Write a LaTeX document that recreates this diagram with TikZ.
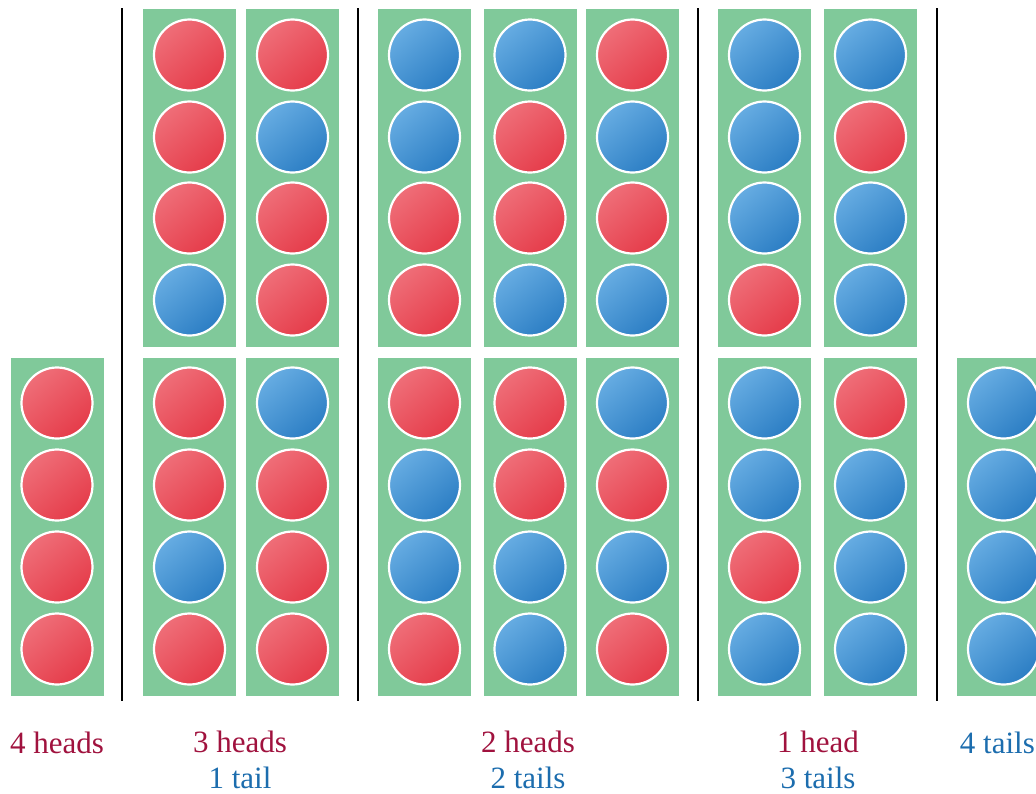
\documentclass[tikz,border=0pt]{standalone}
\usepackage{fontspec}
\setmainfont{Liberation Serif}
\definecolor{panelgreen}{HTML}{80C99A}
\definecolor{redlight}{HTML}{EF6E78}
\definecolor{reddark}{HTML}{E53C4A}
\definecolor{bluelight}{HTML}{66ACE2}
\definecolor{bluedark}{HTML}{2C7EC4}
\definecolor{headtext}{HTML}{A0123E}
\definecolor{tailtext}{HTML}{1C6DAE}
\begin{document}
\begin{tikzpicture}[
    x=1pt, y=-1pt,
    panel/.style={
        fill=panelgreen,
        draw=none,
        minimum width=93pt,
        minimum height=338pt,
        inner sep=0pt
    },
    coin/.style={
        circle,
        draw=white,
        line width=2.2pt,
        minimum size=71pt,
        inner sep=0pt
    },
    head/.style={coin, top color=redlight, bottom color=reddark, shading angle=40},
    tail/.style={coin, top color=bluelight, bottom color=bluedark, shading angle=40},
    sep/.style={draw=black, line width=1.2pt},
    label/.style={
        align=center,
        inner sep=0pt,
        text=headtext,
        font=\fontsize{31}{36}\selectfont
    }
]
\useasboundingbox (0,0) rectangle (1036,793);
\clip (0,0) rectangle (1036,793);

%==========================
% 4 heads
%==========================
\node[panel] (p1b) at (57,527) {};
\node[head] (c1e) at (57,403) {};
\node[head] (c1f) at (57,485) {};
\node[head] (c1g) at (57,567) {};
\node[head] (c1h) at (57,649) {};

\coordinate (s1t) at (122,8);
\coordinate (s1b) at (122,701);
\draw[sep] (s1t) -- (s1b);

%==========================
% 3 heads, 1 tail
%==========================
\node[panel] (p2a) at (189.5,178) {};
\node[head] (c2a) at (189.5,55)  {};
\node[head] (c2b) at (189.5,137) {};
\node[head] (c2c) at (189.5,218) {};
\node[tail] (c2d) at (189.5,300) {};
\node[panel] (p2b) at (189.5,527) {};
\node[head] (c2e) at (189.5,403) {};
\node[head] (c2f) at (189.5,485) {};
\node[tail] (c2g) at (189.5,567) {};
\node[head] (c2h) at (189.5,649) {};

\node[panel] (p3a) at (292.5,178) {};
\node[head] (c3a) at (292.5,55)  {};
\node[tail] (c3b) at (292.5,137) {};
\node[head] (c3c) at (292.5,218) {};
\node[head] (c3d) at (292.5,300) {};
\node[panel] (p3b) at (292.5,527) {};
\node[tail] (c3e) at (292.5,403) {};
\node[head] (c3f) at (292.5,485) {};
\node[head] (c3g) at (292.5,567) {};
\node[head] (c3h) at (292.5,649) {};

\coordinate (s2t) at (358,8);
\coordinate (s2b) at (358,701);
\draw[sep] (s2t) -- (s2b);

%==========================
% 2 heads, 2 tails
%==========================
\node[panel] (p4a) at (424.5,178) {};
\node[tail] (c4a) at (424.5,55)  {};
\node[tail] (c4b) at (424.5,137) {};
\node[head] (c4c) at (424.5,218) {};
\node[head] (c4d) at (424.5,300) {};
\node[panel] (p4b) at (424.5,527) {};
\node[head] (c4e) at (424.5,403) {};
\node[tail] (c4f) at (424.5,485) {};
\node[tail] (c4g) at (424.5,567) {};
\node[head] (c4h) at (424.5,649) {};

\node[panel] (p5a) at (530,178) {};
\node[tail] (c5a) at (530,55)  {};
\node[head] (c5b) at (530,137) {};
\node[head] (c5c) at (530,218) {};
\node[tail] (c5d) at (530,300) {};
\node[panel] (p5b) at (530,527) {};
\node[head] (c5e) at (530,403) {};
\node[head] (c5f) at (530,485) {};
\node[tail] (c5g) at (530,567) {};
\node[tail] (c5h) at (530,649) {};

\node[panel] (p6a) at (632.5,178) {};
\node[head] (c6a) at (632.5,55)  {};
\node[tail] (c6b) at (632.5,137) {};
\node[head] (c6c) at (632.5,218) {};
\node[tail] (c6d) at (632.5,300) {};
\node[panel] (p6b) at (632.5,527) {};
\node[tail] (c6e) at (632.5,403) {};
\node[head] (c6f) at (632.5,485) {};
\node[tail] (c6g) at (632.5,567) {};
\node[head] (c6h) at (632.5,649) {};

\coordinate (s3t) at (698,8);
\coordinate (s3b) at (698,701);
\draw[sep] (s3t) -- (s3b);

%==========================
% 1 head, 3 tails
%==========================
\node[panel] (p7a) at (764.5,178) {};
\node[tail] (c7a) at (764.5,55)  {};
\node[tail] (c7b) at (764.5,137) {};
\node[tail] (c7c) at (764.5,218) {};
\node[head] (c7d) at (764.5,300) {};
\node[panel] (p7b) at (764.5,527) {};
\node[tail] (c7e) at (764.5,403) {};
\node[tail] (c7f) at (764.5,485) {};
\node[head] (c7g) at (764.5,567) {};
\node[tail] (c7h) at (764.5,649) {};

\node[panel] (p8a) at (870.5,178) {};
\node[tail] (c8a) at (870.5,55)  {};
\node[head] (c8b) at (870.5,137) {};
\node[tail] (c8c) at (870.5,218) {};
\node[tail] (c8d) at (870.5,300) {};
\node[panel] (p8b) at (870.5,527) {};
\node[head] (c8e) at (870.5,403) {};
\node[tail] (c8f) at (870.5,485) {};
\node[tail] (c8g) at (870.5,567) {};
\node[tail] (c8h) at (870.5,649) {};

\coordinate (s4t) at (937,8);
\coordinate (s4b) at (937,701);
\draw[sep] (s4t) -- (s4b);

%==========================
% 4 tails
%==========================
\node[panel] (p9b) at (1003.5,527) {};
\node[tail] (c9e) at (1003.5,403) {};
\node[tail] (c9f) at (1003.5,485) {};
\node[tail] (c9g) at (1003.5,567) {};
\node[tail] (c9h) at (1003.5,649) {};

%==========================
% labels
%==========================
\node[label, anchor=base] (l1) at (57,753) {4 heads};
\node[label, anchor=base] (l2) at (240,788) {3 heads\\\textcolor{tailtext}{1 tail}};
\node[label, anchor=base] (l3) at (528,788) {2 heads\\\textcolor{tailtext}{2 tails}};
\node[label, anchor=base] (l4) at (818,788) {1 head\\\textcolor{tailtext}{3 tails}};
\node[label, anchor=base east, text=tailtext] (l5) at (1035,753) {4 tails};

\end{tikzpicture}
\end{document}
